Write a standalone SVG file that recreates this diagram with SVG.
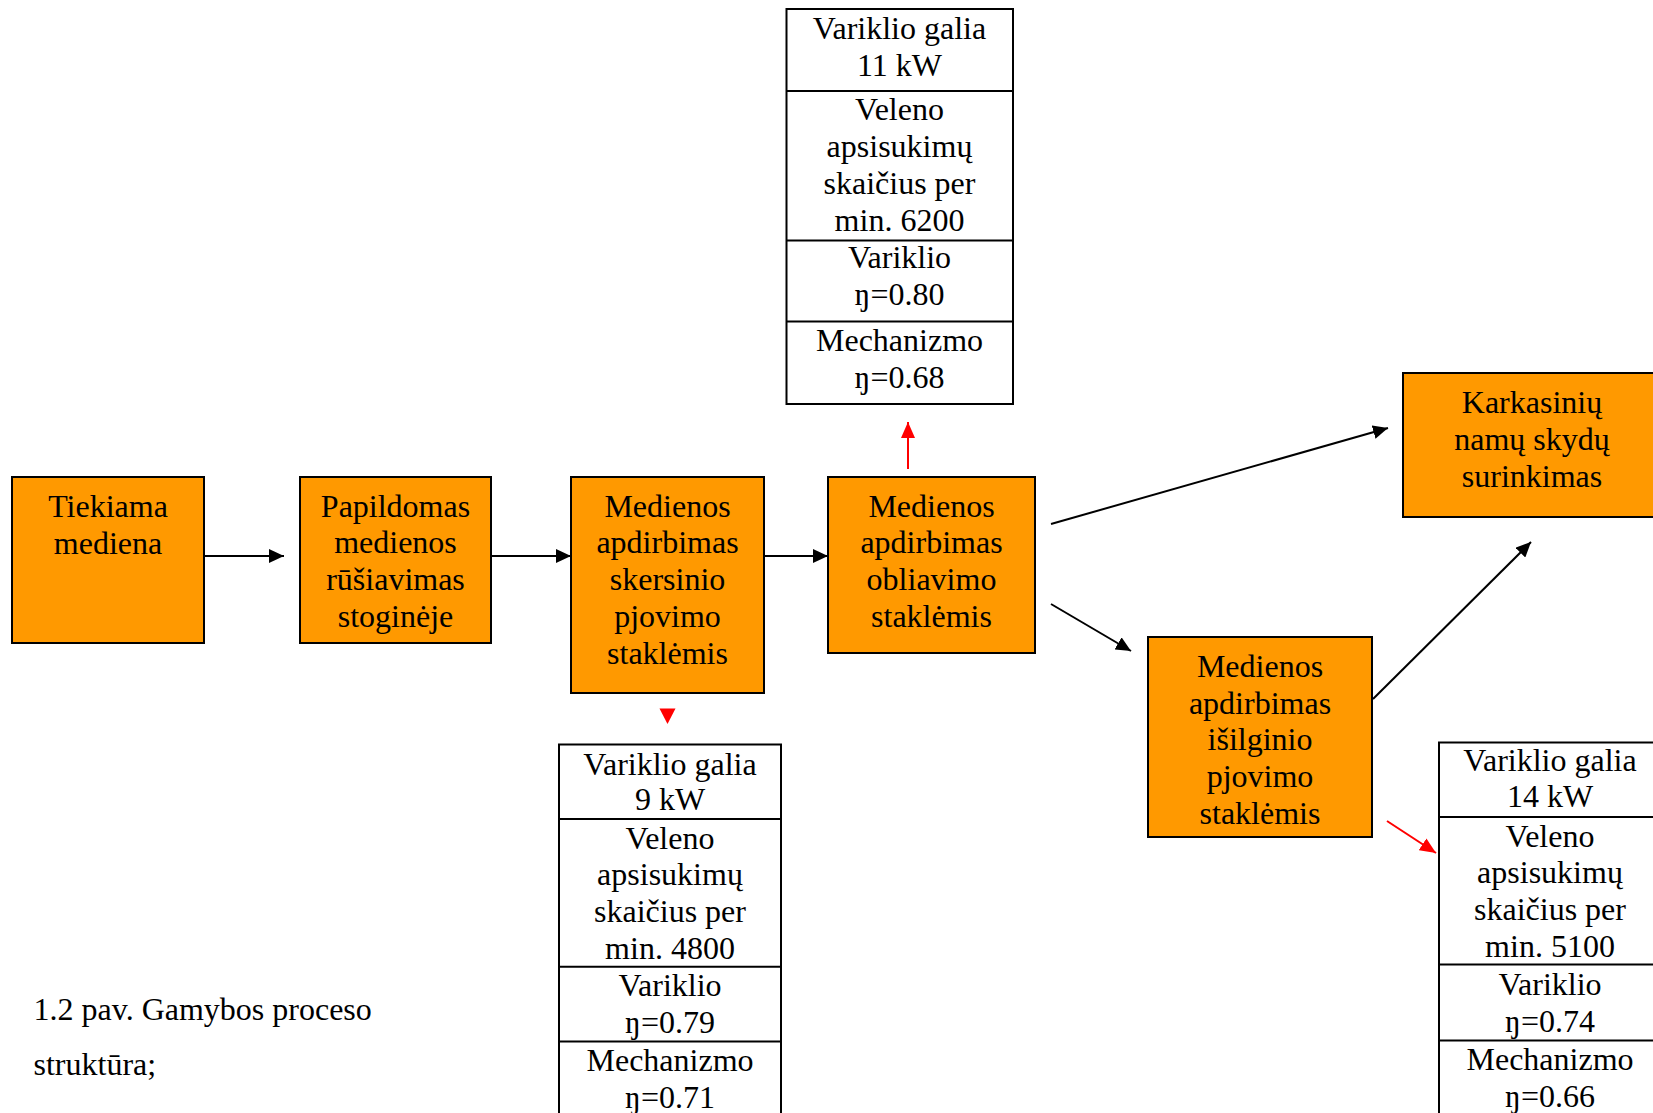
<svg xmlns="http://www.w3.org/2000/svg" width="1653" height="1113" viewBox="0 0 1653 1113">
<defs>
<style>
text{font-family:"Liberation Serif","Times New Roman",serif;font-size:32px;fill:#000;text-anchor:middle}
.box{fill:#FF9900;stroke:#000;stroke-width:2}
.tbl{fill:#fff;stroke:#000;stroke-width:2}
.div{stroke:#000;stroke-width:2}
.blk{stroke:#000;stroke-width:2;fill:none}
.red{stroke:#FF0000;stroke-width:2;fill:none}
.cap{text-anchor:start}
</style>
<marker id="ab" viewBox="0 0 15 14" refX="15" refY="7" markerWidth="15" markerHeight="14" markerUnits="userSpaceOnUse" orient="auto">
<path d="M0,0 L15,7 L0,14 Z" fill="#000"/>
</marker>
<marker id="ar" viewBox="0 0 16 14" refX="16" refY="7" markerWidth="16" markerHeight="14" markerUnits="userSpaceOnUse" orient="auto">
<path d="M0,0 L16,7 L0,14 Z" fill="#FF0000"/>
</marker>
</defs>
<rect width="1653" height="1113" fill="#fff"/>

<g id="connectors">
<line class="blk" x1="204" y1="556" x2="284" y2="556" marker-end="url(#ab)"/>
<line class="blk" x1="491" y1="556" x2="571" y2="556" marker-end="url(#ab)"/>
<line class="blk" x1="764" y1="556" x2="828" y2="556" marker-end="url(#ab)"/>
<line class="blk" x1="1051" y1="524" x2="1388" y2="428" marker-end="url(#ab)"/>
<line class="blk" x1="1051" y1="604" x2="1131" y2="651" marker-end="url(#ab)"/>
<line class="blk" x1="1373" y1="699" x2="1531" y2="542" marker-end="url(#ab)"/>
<line class="red" x1="908" y1="469" x2="908" y2="422" marker-end="url(#ar)"/>
<path d="M659.5,708.5 L675.5,708.5 L667.5,724 Z" fill="#FF0000"/>
<line class="red" x1="1387" y1="821" x2="1436" y2="853" marker-end="url(#ar)"/>
</g>

<g id="n1">
<rect class="box" x="12" y="477" width="192" height="166"/>
<text x="108" y="516.5">Tiekiama</text>
<text x="108" y="553.5">mediena</text>
</g>

<g id="n2">
<rect class="box" x="300" y="477" width="191" height="166"/>
<text x="395.5" y="516.5">Papildomas</text>
<text x="395.5" y="553.3">medienos</text>
<text x="395.5" y="590.1">rūšiavimas</text>
<text x="395.5" y="626.9">stoginėje</text>
</g>

<g id="n3">
<rect class="box" x="571" y="477" width="193" height="216"/>
<text x="667.5" y="516.5">Medienos</text>
<text x="667.5" y="553.3">apdirbimas</text>
<text x="667.5" y="590.1">skersinio</text>
<text x="667.5" y="626.9">pjovimo</text>
<text x="667.5" y="663.7">staklėmis</text>
</g>

<g id="n4">
<rect class="box" x="828" y="477" width="207" height="176"/>
<text x="931.5" y="516.5">Medienos</text>
<text x="931.5" y="553.3">apdirbimas</text>
<text x="931.5" y="590.1">obliavimo</text>
<text x="931.5" y="626.9">staklėmis</text>
</g>

<g id="n5">
<rect class="box" x="1403" y="373" width="258" height="144"/>
<text x="1532" y="413">Karkasinių</text>
<text x="1532" y="449.8">namų skydų</text>
<text x="1532" y="486.6">surinkimas</text>
</g>

<g id="n6">
<rect class="box" x="1148" y="637" width="224" height="200"/>
<text x="1260" y="676.8">Medienos</text>
<text x="1260" y="713.6">apdirbimas</text>
<text x="1260" y="750.4">išilginio</text>
<text x="1260" y="787.2">pjovimo</text>
<text x="1260" y="824">staklėmis</text>
</g>

<g id="t1">
<rect class="tbl" x="786.5" y="9" width="226.5" height="395"/>
<line class="div" x1="786.5" y1="91" x2="1013" y2="91"/>
<line class="div" x1="786.5" y1="240.5" x2="1013" y2="240.5"/>
<line class="div" x1="786.5" y1="321.5" x2="1013" y2="321.5"/>
<text x="899.5" y="39">Variklio galia</text>
<text x="899.5" y="75.8">11 kW</text>
<text x="899.5" y="120.2">Veleno</text>
<text x="899.5" y="157">apsisukimų</text>
<text x="899.5" y="193.8">skaičius per</text>
<text x="899.5" y="230.6">min. 6200</text>
<text x="899.5" y="268">Variklio</text>
<text x="899.5" y="304.8">ŋ=0.80</text>
<text x="899.5" y="351">Mechanizmo</text>
<text x="899.5" y="387.8">ŋ=0.68</text>
</g>

<g id="t2">
<rect class="tbl" x="559" y="744.5" width="222" height="380"/>
<line class="div" x1="559" y1="819" x2="781" y2="819"/>
<line class="div" x1="559" y1="966.7" x2="781" y2="966.7"/>
<line class="div" x1="559" y1="1041.6" x2="781" y2="1041.6"/>
<text x="670" y="774.8">Variklio galia</text>
<text x="670" y="809.6">9 kW</text>
<text x="670" y="848.6">Veleno</text>
<text x="670" y="885.4">apsisukimų</text>
<text x="670" y="922.2">skaičius per</text>
<text x="670" y="959">min. 4800</text>
<text x="670" y="996.2">Variklio</text>
<text x="670" y="1033">ŋ=0.79</text>
<text x="670" y="1071">Mechanizmo</text>
<text x="670" y="1107.8">ŋ=0.71</text>
</g>

<g id="t3">
<rect class="tbl" x="1439" y="742.5" width="222" height="380"/>
<line class="div" x1="1439" y1="817" x2="1661" y2="817"/>
<line class="div" x1="1439" y1="964.6" x2="1661" y2="964.6"/>
<line class="div" x1="1439" y1="1040.5" x2="1661" y2="1040.5"/>
<text x="1550" y="770.6">Variklio galia</text>
<text x="1550" y="807.4">14 kW</text>
<text x="1550" y="846.5">Veleno</text>
<text x="1550" y="883.3">apsisukimų</text>
<text x="1550" y="920.1">skaičius per</text>
<text x="1550" y="956.9">min. 5100</text>
<text x="1550" y="995.2">Variklio</text>
<text x="1550" y="1032">ŋ=0.74</text>
<text x="1550" y="1070">Mechanizmo</text>
<text x="1550" y="1106.8">ŋ=0.66</text>
</g>

<g id="caption">
<text class="cap" x="33.5" y="1020">1.2 pav. Gamybos proceso</text>
<text class="cap" x="33.5" y="1075">struktūra;</text>
</g>
</svg>
